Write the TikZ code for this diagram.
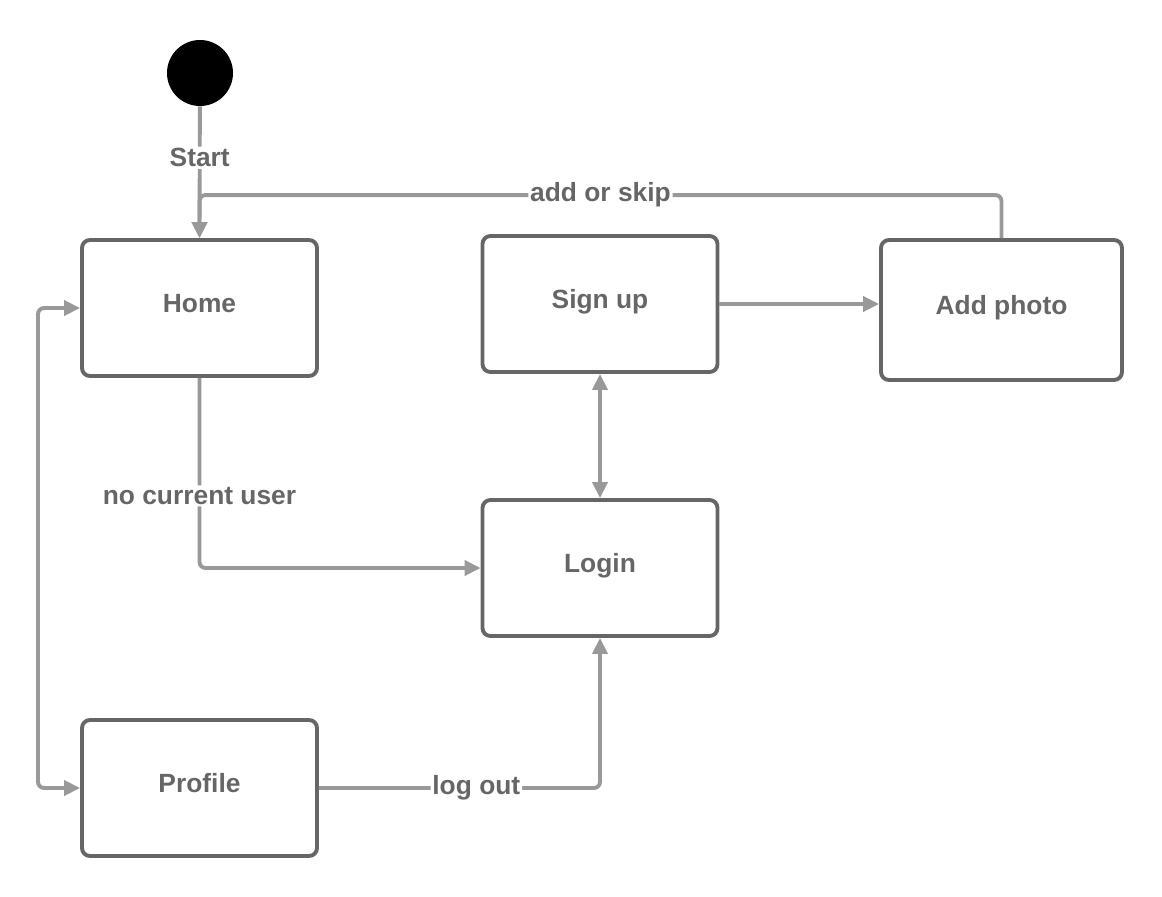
\documentclass[tikz,border=0pt]{standalone}
\usepackage{fontspec}
\setmainfont{Liberation Sans}
\usepackage{xcolor}
\usepackage{tikz}
\usetikzlibrary{positioning,calc,arrows.meta}

\definecolor{boxgray}{HTML}{666666}
\definecolor{linegray}{HTML}{999999}

\tikzset{
    state/.style={draw=boxgray, line width=2.2pt, rounded corners=1.6mm, fill=white,
        minimum width=47mm, minimum height=27.2mm, text=boxgray,
        text height=3.8mm, text depth=2.2mm,
        font=\fontsize{15}{17}\selectfont\bfseries},
    conn/.style={draw=linegray, line width=2.2pt, rounded corners=1.2mm,
        -{Triangle[length=3.2mm,width=3mm]}},
    lbl/.style={fill=white, inner sep=1pt, text=boxgray,
        font=\fontsize{15}{17}\selectfont\bfseries}
}

\begin{document}
\begin{tikzpicture}[x=0.2mm, y=-0.2mm]
        \useasboundingbox (0,0) rectangle (1162,896);

        % initial state
        \node[circle, fill=black, minimum size=13.2mm, inner sep=0pt] (start) at (200,73) {};

        % states
        \node[state] (home) at (199.5,308) {Home};
        \node[state] (signup) at (600,304) {Sign up};
        \node[state, minimum width=48.2mm, minimum height=28mm] (addphoto) at (1001.5,310) {Add photo};
        \node[state] (login) at (600,568) {Login};
        \node[state] (profile) at (199.5,788) {Profile};

        % transitions
        \draw[conn] (start) -- node[lbl, pos=0.39] {Start} (home.north);
        \draw[conn] (addphoto.north) -- ++(0,-43) -| node[lbl, pos=0.25] {add or skip} (home.north);
        \draw[conn] (signup.east) -- (signup.east -| addphoto.west);
        \draw[conn, {Triangle[length=3.2mm,width=3mm]}-{Triangle[length=3.2mm,width=3mm]}] (signup.south) -- (login.north);
        \draw[conn] (home.south) |- node[lbl, pos=0.31] {no current user} (login.west);
        \draw[conn] (profile.east) -| node[lbl, pos=0.28] {log out} (login.south);
        \draw[conn, {Triangle[length=3.2mm,width=3mm]}-{Triangle[length=3.2mm,width=3mm]}] (home.west) -- ++(-42,0) |- (profile.west);
    \end{tikzpicture}
\end{document}
